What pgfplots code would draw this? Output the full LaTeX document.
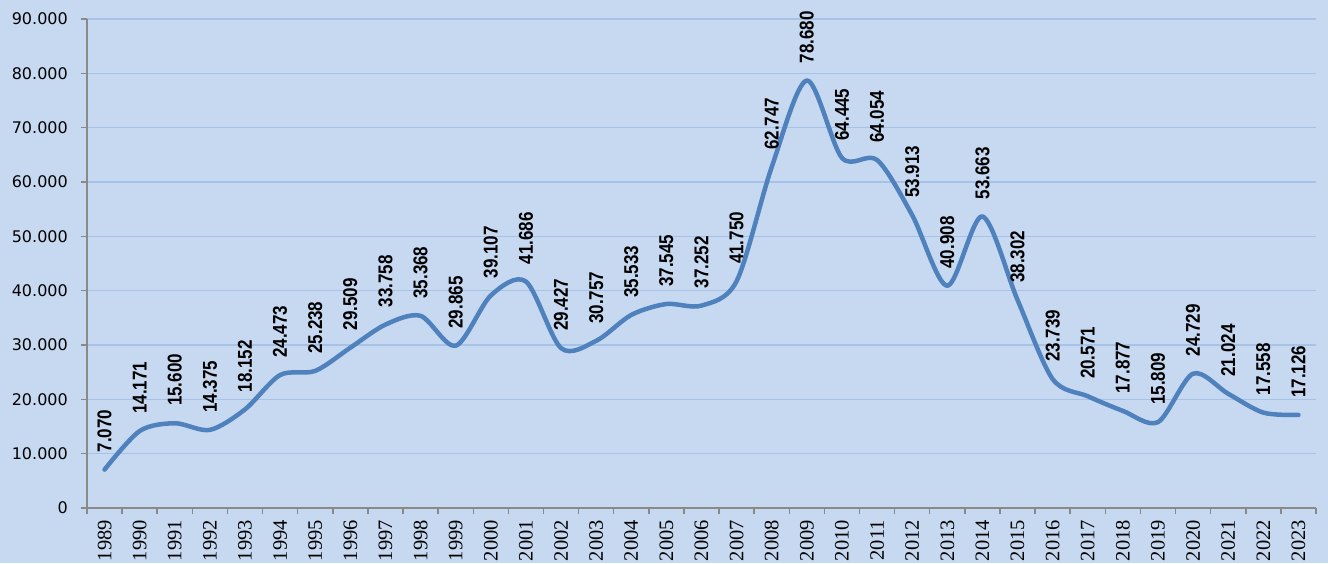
\documentclass[border=0pt]{standalone}
\usepackage{pgfplots}
\pgfplotsset{compat=1.18}
\usepackage{pgfplotstable}
\usepackage{fontspec}
\setmainfont{Liberation Sans}
\newfontfamily\lblfont[FakeStretch=0.85]{Liberation Sans}
\newfontfamily\yfont{DejaVu Sans}
\newfontfamily\xfont{Liberation Serif}
\definecolor{bgc}{HTML}{C6D9F1}
\definecolor{gridc}{HTML}{A6C2E7}
\definecolor{linec}{HTML}{4F81BD}
\definecolor{axc}{HTML}{898989}

\pgfplotstableread{
x y lab
0 7070 7.070
1 14171 14.171
2 15600 15.600
3 14375 14.375
4 18152 18.152
5 24473 24.473
6 25238 25.238
7 29509 29.509
8 33758 33.758
9 35368 35.368
10 29865 29.865
11 39107 39.107
12 41686 41.686
13 29427 29.427
14 30757 30.757
15 35533 35.533
16 37545 37.545
17 37252 37.252
18 41750 41.750
19 62747 62.747
20 78680 78.680
21 64445 64.445
22 64054 64.054
23 53913 53.913
24 40908 40.908
25 53663 53.663
26 38302 38.302
27 23739 23.739
28 20571 20.571
29 17877 17.877
30 15809 15.809
31 24729 24.729
32 21024 21.024
33 17558 17.558
34 17126 17.126
}\datatable

\begin{document}
\begin{tikzpicture}
\path[use as bounding box, fill=bgc] (0,0) rectangle (1328pt,563pt);
\begin{axis}[
  scale only axis, width=1229pt, height=489pt,
  at={(87pt,55pt)}, anchor=south west,
  clip=false,
  xmin=-0.5, xmax=34.5, ymin=0, ymax=90000,
  axis x line=bottom, axis y line=left,
  axis line style={axc, line width=1.5pt, -},
  xtick={0,...,34},
  xticklabels={1989,1990,1991,1992,1993,1994,1995,1996,1997,1998,1999,2000,2001,2002,2003,2004,2005,2006,2007,2008,2009,2010,2011,2012,2013,2014,2015,2016,2017,2018,2019,2020,2021,2022,2023},
  minor xtick={-0.5,0.5,...,34.5},
  major x tick style={draw=none},
  minor x tick style={axc, line width=1.5pt},
  tick align=outside,
  major tick length=6pt, minor tick length=6pt,
  ytick={0,10000,...,90000},
  y tick style={axc, line width=1.5pt},
  ymajorgrids, major grid style={gridc, line width=1.5pt},
  scaled y ticks=false,
  /pgf/number format/1000 sep={.},
  /pgf/number format/assume math mode=true,
  yticklabel style={font=\fontsize{16}{16}\selectfont\yfont, text=black, anchor=east, inner sep=0pt},
  yticklabel shift=13pt,
  xticklabel style={font=\fontsize{20.5}{20.5}\selectfont\xfont, text=black, rotate=90, anchor=east, inner sep=0pt},
  xticklabel shift=6pt,
  nodes near coords,
  point meta=explicit symbolic,
  every node near coord/.append style={font=\fontsize{20}{20}\selectfont\lblfont\bfseries, text=black, yshift=15pt, rotate=90, anchor=west, inner sep=0pt},
]
\addplot[linec, line width=4.5pt, smooth, line cap=round, line join=round] table[x=x, y=y, meta=lab]{\datatable};
\end{axis}
\end{tikzpicture}
\end{document}
